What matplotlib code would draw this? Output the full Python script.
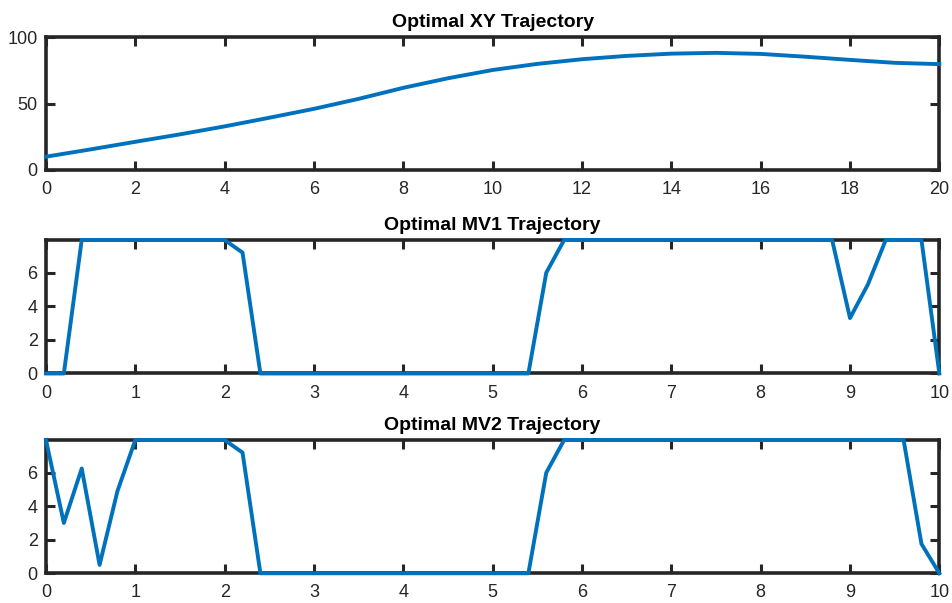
import numpy as np
import matplotlib
matplotlib.use('Agg')
import matplotlib.pyplot as plt

plt.rcParams['font.family'] = ['Liberation Sans', 'DejaVu Sans']

# ---------------------------
# Data
# ---------------------------
xy_t = list(range(0, 21))
xy_vals = [10.0, 15.5, 21.2, 26.8, 32.8, 39.3, 46.0, 53.5, 61.8, 69.0, 75.2,
           79.8, 83.3, 85.8, 87.5, 88.1, 87.3, 85.2, 82.8, 80.6, 79.6]

mv_t = np.round(np.arange(0, 10.01, 0.2), 1)
umax = 7.95

# MV1: 51 samples, step 0.2
mv1 = ([0, 0] + [umax] * 9 + [7.2] + [0] * 16 + [6.0] + [umax] * 16
       + [3.3, 5.3, umax, umax, umax, 0])
# MV2
mv2 = ([umax, 3.0, 6.25, 0.5, 4.9] + [umax] * 6 + [7.2] + [0] * 16 + [6.0]
       + [umax] * 20 + [1.75, 0])

line_color = '#0072BD'
spine_color = '#262626'

# ---------------------------
# Figure
# ---------------------------
fig = plt.figure(figsize=(9.52, 6.03), dpi=100)

def style_axes(ax):
    for s in ax.spines.values():
        s.set_linewidth(2.6)
        s.set_color(spine_color)
    ax.tick_params(direction='in', top=True, right=True, length=6.5, width=2.2,
                   color=spine_color, labelcolor=spine_color, labelsize=13,
                   pad=6)
    ax.tick_params(axis='x', pad=8)

# 1) Optimal XY Trajectory
ax1 = fig.add_axes([0.0483, 0.7181, 0.9384, 0.2205])
ax1.plot(xy_t, xy_vals, color=line_color, lw=2.8, zorder=3, clip_on=False)
ax1.set_xlim(0, 20)
ax1.set_ylim(0, 100)
ax1.set_xticks(range(0, 21, 2))
ax1.set_yticks([0, 50, 100])
ax1.set_title('Optimal XY Trajectory', fontsize=14, fontweight='bold', pad=7)
style_axes(ax1)

# 2) Optimal MV1 Trajectory
ax2 = fig.add_axes([0.0483, 0.3806, 0.9384, 0.2214])
ax2.plot(mv_t, mv1, color=line_color, lw=2.8, zorder=3, clip_on=False)
ax2.set_xlim(0, 10)
ax2.set_ylim(0, umax)
ax2.set_xticks(range(0, 11))
ax2.set_yticks([0, 2, 4, 6])
ax2.set_title('Optimal MV1 Trajectory', fontsize=14, fontweight='bold', pad=7)
style_axes(ax2)

# 3) Optimal MV2 Trajectory
ax3 = fig.add_axes([0.0483, 0.0493, 0.9384, 0.2210])
ax3.plot(mv_t, mv2, color=line_color, lw=2.8, zorder=3, clip_on=False)
ax3.set_xlim(0, 10)
ax3.set_ylim(0, umax)
ax3.set_xticks(range(0, 11))
ax3.set_yticks([0, 2, 4, 6])
ax3.set_title('Optimal MV2 Trajectory', fontsize=14, fontweight='bold', pad=7)
style_axes(ax3)

fig.savefig('out.png', dpi=100)
